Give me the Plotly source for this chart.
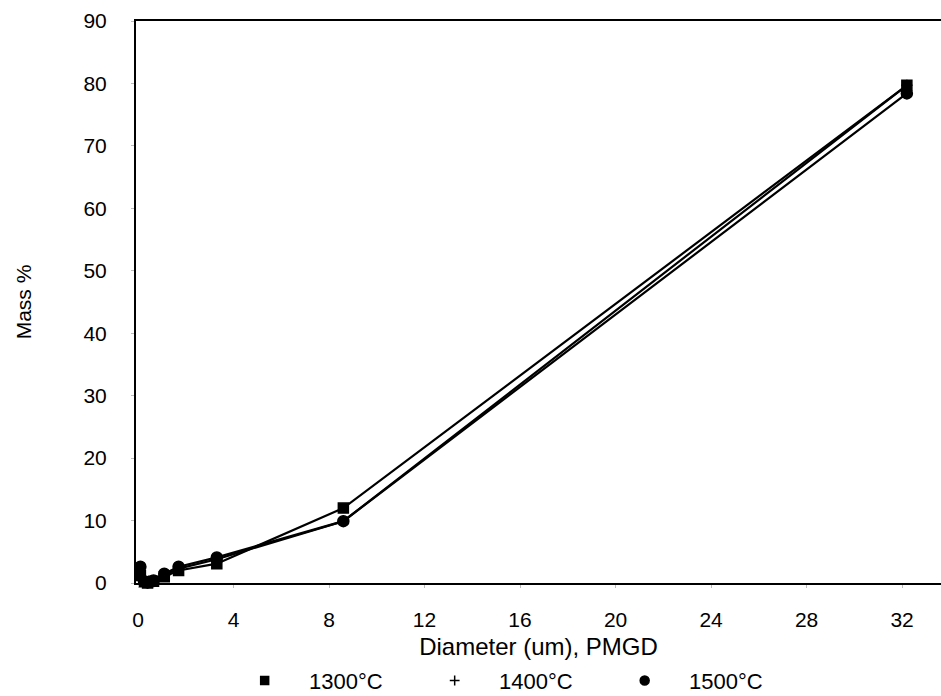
import plotly.graph_objects as go

diameter = [0.1, 0.25, 0.4, 0.65, 1.1, 1.7, 3.3, 8.6, 32.2]
mass_1300 = [1.2, 0.2, 0.0, 0.3, 1.0, 2.0, 3.1, 12.0, 79.7]
mass_1400 = [1.8, 0.1, 0.0, 0.2, 1.3, 2.3, 3.8, 9.9, 79.7]
mass_1500 = [2.6, 0.3, 0.1, 0.4, 1.5, 2.6, 4.1, 9.9, 78.4]
labels = ["    1300\u00b0C", "    1400\u00b0C", "    1500\u00b0C"]
symbols = ["square", "cross-thin", "circle"]
sizes = [10, 8, 11]

font = "Liberation Sans, Arial, sans-serif"
fig = go.Figure()
for ys, lab, sym, sz in zip([mass_1300, mass_1400, mass_1500], labels, symbols, sizes):
    fig.add_trace(go.Scatter(
        x=diameter, y=ys, mode="lines+markers", showlegend=False,
        line=dict(color="black", width=2.2),
        marker=dict(symbol=sym, size=sz, color="black", line=dict(color="black", width=1.5)),
        cliponaxis=False))
    fig.add_trace(go.Scatter(
        x=[None], y=[None], mode="markers", name=lab,
        marker=dict(symbol=sym, size=sz - 2 if sym != "cross-thin" else 7, color="black",
                    line=dict(color="black", width=1.5))))

fig.update_layout(
    width=941, height=696,
    margin=dict(l=136, r=0, t=21, b=113, autoexpand=False),
    paper_bgcolor="white", plot_bgcolor="white",
    font=dict(family=font, size=20, color="black"),
    xaxis=dict(range=[-0.084, 33.63], tickvals=[0, 4, 8, 12, 16, 20, 24, 28, 32],
               showgrid=False, zeroline=False, showline=True, linecolor="black", linewidth=2,
               mirror=True, ticks="outside", ticklen=3, tickcolor="#bbb",
               ticklabelstandoff=14, tickfont=dict(size=21),
               title=dict(text="Diameter (um), PMGD", standoff=14, font=dict(size=24))),
    yaxis=dict(range=[0, 90], tickvals=list(range(0, 91, 10)),
               showgrid=False, zeroline=False, showline=True, linecolor="black", linewidth=2,
               ticks="outside", ticklen=3, tickcolor="#bbb", ticklabelstandoff=20,
               tickfont=dict(size=21),
               title=dict(text="Mass %", standoff=46, font=dict(size=21))),
    legend=dict(orientation="h", x=0.135, xanchor="left", yref="container",
                y=0.022, yanchor="middle",
                font=dict(size=22), entrywidth=145, itemwidth=30,
                bgcolor="rgba(0,0,0,0)"),
)
fig.write_html("out.html")
